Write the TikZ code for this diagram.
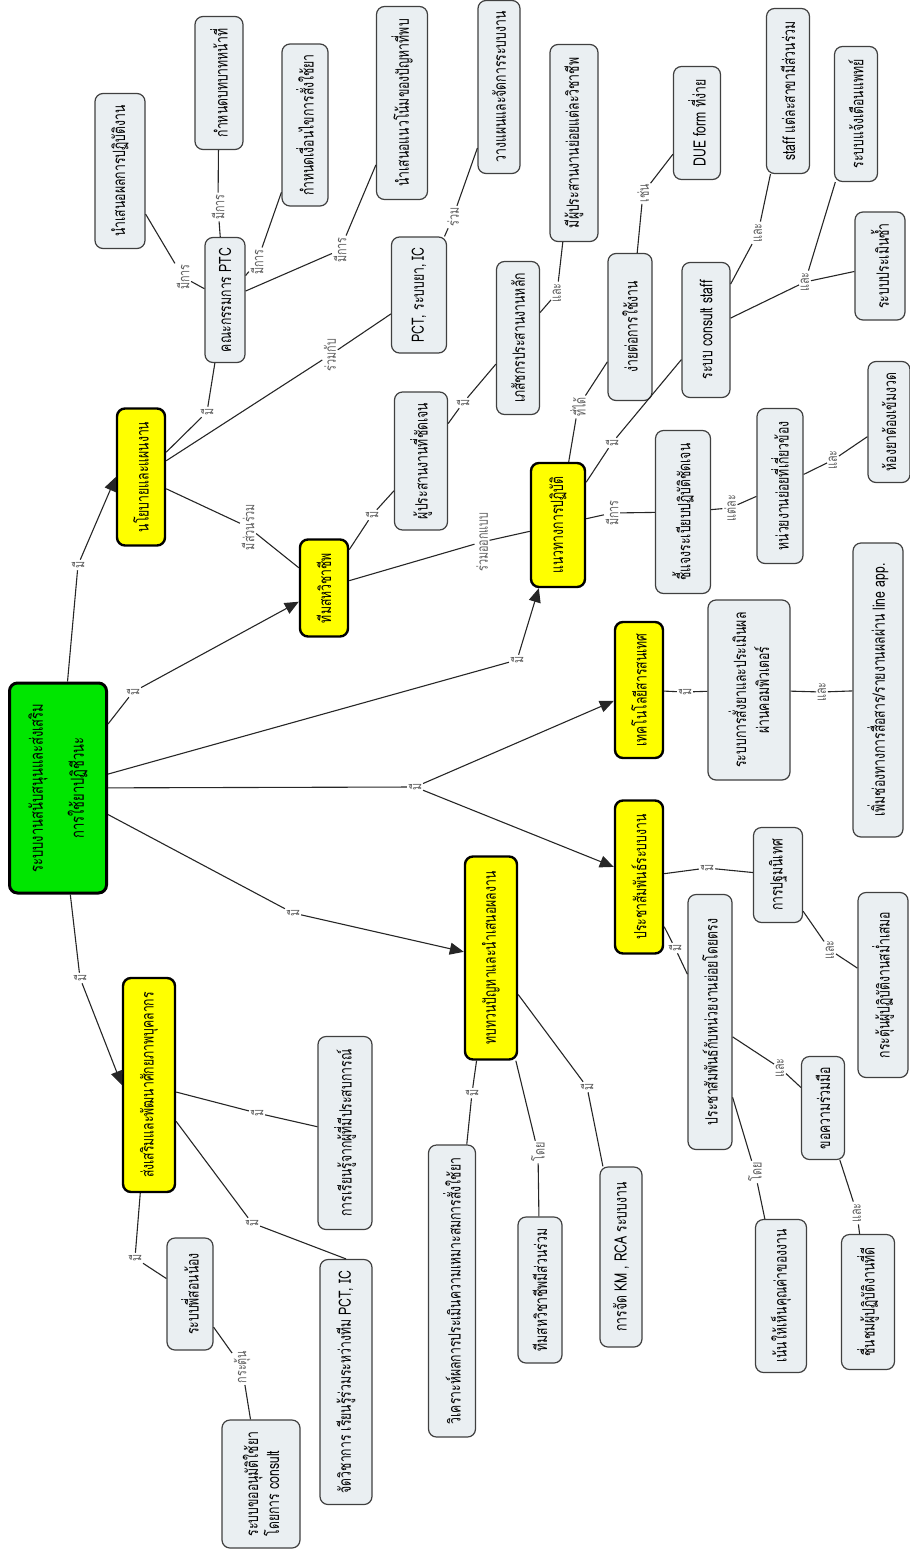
\documentclass[tikz,border=0pt]{standalone}
\usepackage{fontspec}
\usepackage{tikz}
\usetikzlibrary{arrows.meta}
\newfontfamily\thaifont[Script=Thai,FakeStretch=0.72]{Loma}
\definecolor{rootgreen}{RGB}{0,230,0}
\definecolor{mainyellow}{RGB}{255,255,0}
\definecolor{conceptgrey}{RGB}{234,239,242}
\definecolor{phrasegrey}{RGB}{95,95,95}

\begin{document}
\begin{tikzpicture}[x=1pt, y=-1pt,
        base/.style={rotate=90, rounded corners=8pt, align=center, inner sep=2pt,
          font=\thaifont\fontsize{17}{20}\selectfont},
        sz/.style 2 args={minimum width=#1pt, minimum height=#2pt},
        concept/.style={base, draw=black!75, line width=1.2pt, fill=conceptgrey},
        topic/.style={base, draw=black, line width=2.4pt, fill=mainyellow},
        rootbox/.style={base, draw=black, line width=3pt, fill=rootgreen,
          font=\thaifont\fontsize{18}{21}\selectfont},
        phrase/.style={rotate=90, inner sep=1.5pt, text=phrasegrey,
          font=\thaifont\fontsize{15}{17}\selectfont},
        link/.style={line width=1.1pt, black!85},
        arr/.style={link, -{Triangle[length=14pt, width=12pt]}}
    ]
        \useasboundingbox (0,0) rectangle (910,1553);

        % root
        \node[rootbox, sz={210}{97}] (root) at (58,788)
            {ระบบงานสนับสนุนและส่งเสริม\\[20pt]การใช้ยาปฏิชีวนะ};

        % main topics
        \node[topic, sz={137}{48}] (poli) at (141,477) {นโยบายและแผนงาน};
        \node[topic, sz={97}{48}] (team) at (324,588) {ทีมสหวิชาชีพ};
        \node[topic, sz={124}{54}] (guide) at (558,525) {แนวทางการปฏิบัติ};
        \node[topic, sz={136}{48}] (tech) at (639,690) {เทคโนโลยีสารสนเทศ};
        \node[topic, sz={153}{48}] (pr) at (639,877) {ประชาสัมพันธ์ระบบงาน};
        \node[topic, sz={203}{52}] (review) at (491,958) {ทบทวนปัญหาและนำเสนอผลงาน};
        \node[topic, sz={214}{52}] (dev) at (149,1085) {ส่งเสริมและพัฒนาศักยภาพบุคลากร};

        % policy branch
        \node[concept, sz={125}{40}] (ptc) at (225,300) {คณะกรรมการ PTC};
        \node[concept, sz={155}{50}] (present) at (120,171) {นำเสนอผลการปฏิบัติงาน};
        \node[concept, sz={133}{48}] (role) at (219,83) {กำหนดบทบาทหน้าที่};
        \node[concept, sz={162}{46}] (cond) at (305,125) {กำหนดเงื่อนไขการสั่งใช้ยา};
        \node[concept, sz={193}{51}] (trend) at (402,103) {นำเสนอแนวโน้มของปัญหาที่พบ};
        \node[concept, sz={116}{55}] (pct) at (419,295) {PCT, ระบบยา, IC};
        \node[concept, sz={173}{42}] (plan) at (499,87) {วางแผนและจัดการระบบงาน};

        % team branch
        \node[concept, sz={138}{53}] (coord) at (421,461) {ผู้ประสานงานที่ชัดเจน};
        \node[concept, sz={153}{43}] (pharm) at (518,338) {เภสัชกรประสานงานหลัก};
        \node[concept, sz={197}{48}] (subco) at (574,143) {มีผู้ประสานงานย่อยแต่ละวิชาชีพ};

        % guideline branch
        \node[concept, sz={147}{44}] (easy) at (630,327) {ง่ายต่อการใช้งาน};
        \node[concept, sz={113}{47}] (due) at (697,123) {DUE form ที่ง่าย};
        \node[concept, sz={135}{48}] (consult) at (706,330) {ระบบ consult staff};
        \node[concept, sz={165}{43}] (staff) at (788,91) {staff แต่ละสาขามีส่วนร่วม};
        \node[concept, sz={135}{43}] (alert) at (856,114) {ระบบแจ้งเตือนแพทย์};
        \node[concept, sz={108}{50}] (reeval) at (880,266) {ระบบประเมินซ้ำ};
        \node[concept, sz={163}{55}] (clarify) at (683,512) {ชี้แจงระเบียบปฏิบัติชัดเจน};
        \node[concept, sz={155}{46}] (unit) at (780,486) {หน่วยงานย่อยที่เกี่ยวข้อง};
        \node[concept, sz={121}{42}] (strict) at (889,422) {ห้องยาต้องเข้มงวด};

        % technology branch
        \node[concept, sz={180}{82}] (cpoe) at (749,690)
            {ระบบการสั่งยาและประเมินผล\\[3pt]ผ่านคอมพิวเตอร์};
        \node[concept, sz={294}{50}] (line) at (878,690) {เพิ่มช่องทางการสื่อสาร/รายงานผลผ่าน line app.};

        % public relations branch
        \node[concept, sz={95}{49}] (orient) at (778,875) {การปฐมนิเทศ};
        \node[concept, sz={185}{50}] (motiv) at (883,985) {กระตุ้นผู้ปฏิบัติงานสม่ำเสมอ};
        \node[concept, sz={255}{44}] (prunit) at (710,1022) {ประชาสัมพันธ์กับหน่วยงานย่อยโดยตรง};
        \node[concept, sz={103}{43}] (coop) at (823,1108) {ขอความร่วมมือ};
        \node[concept, sz={153}{51}] (value) at (781,1296) {เน้นให้เห็นคุณค่าของงาน};
        \node[concept, sz={135}{53}] (praise) at (868,1302) {ชื่นชมผู้ปฏิบัติงานที่ดี};

        % review branch
        \node[concept, sz={292}{47}] (analyze) at (452,1291) {วิเคราะห์ผลการประเมินความเหมาะสมการสั่งใช้ยา};
        \node[concept, sz={146}{44}] (mdt) at (540,1290) {ทีมสหวิชาชีพมีส่วนร่วม};
        \node[concept, sz={180}{42}] (km) at (621,1257) {การจัด KM , RCA ระบบงาน};

        % staff development branch
        \node[concept, sz={193}{54}] (learn) at (345,1133) {การเรียนรู้จากผู้ที่มีประสบการณ์};
        \node[concept, sz={245}{52}] (acad) at (346,1382) {จัดวิชาการ เรียนรู้ร่วมระหว่างทีม PCT, IC};
        \node[concept, sz={112}{46}] (mentor) at (190,1294) {ระบบพี่สอนน้อง};
        \node[concept, sz={128}{78}, align=left] (approve) at (261,1484)
            {ระบบขออนุมัติใช้ยา\\[1pt]โดยการ consult};

        % linking phrases
        \node[phrase] (la1) at (78,565) {มี};
        \node[phrase] (la2) at (133,692) {มี};
        \node[phrase] (la3) at (517,660) {มี};
        \node[phrase] (la4) at (415,787) {มี};
        \node[phrase] (la5) at (293,913) {มี};
        \node[phrase] (la6) at (80,978) {มี};
        \node[phrase] (lb1) at (207,412) {มี};
        \node[phrase] (lb2) at (330,355) {ร่วมกับ};
        \node[phrase] (lb3) at (248,527) {มีส่วนร่วม};
        \node[phrase] (lc1) at (183,277) {มีการ};
        \node[phrase] (lc2) at (218,207) {มีการ};
        \node[phrase] (lc3) at (257,262) {มีการ};
        \node[phrase] (lc4) at (340,250) {มีการ};
        \node[phrase] (ld1) at (453,217) {ร่วม};
        \node[phrase] (le1) at (372,515) {มี};
        \node[phrase] (le2) at (482,542) {ร่วมออกแบบ};
        \node[phrase] (lf1) at (463,403) {มี};
        \node[phrase] (lg1) at (557,293) {และ};
        \node[phrase] (lh1) at (578,407) {ที่ได้};
        \node[phrase] (lh2) at (612,443) {มี};
        \node[phrase] (lh3) at (612,513) {มีการ};
        \node[phrase] (li1) at (643,193) {เช่น};
        \node[phrase] (lj1) at (758,233) {และ};
        \node[phrase] (lj2) at (805,282) {และ};
        \node[phrase] (lk1) at (730,508) {แต่ละ};
        \node[phrase] (ll1) at (833,460) {และ};
        \node[phrase] (lm1) at (685,692) {มี};
        \node[phrase] (ln1) at (822,692) {และ};
        \node[phrase] (lo1) at (707,868) {มี};
        \node[phrase] (lo2) at (675,948) {มี};
        \node[phrase] (lp1) at (830,950) {และ};
        \node[phrase] (lq1) at (780,1068) {และ};
        \node[phrase] (lq2) at (755,1172) {โดย};
        \node[phrase] (lr1) at (857,1213) {และ};
        \node[phrase] (ls1) at (472,1093) {มี};
        \node[phrase] (ls2) at (538,1152) {โดย};
        \node[phrase] (ls3) at (587,1087) {มี};
        \node[phrase] (lt1) at (257,1113) {มี};
        \node[phrase] (lt2) at (252,1223) {มี};
        \node[phrase] (lt3) at (135,1258) {มี};
        \node[phrase] (lu1) at (242,1367) {กระตุ้น};

        % root links
        \draw[link] (root) -- (la1);
        \draw[arr] (la1) -- (poli.north);
        \draw[link] (root) -- (la2);
        \draw[arr] (la2) -- (team);
        \draw[link] (root) -- (la3);
        \draw[arr] (la3) -- (guide);
        \draw[link] (root) -- (la4);
        \draw[arr] (la4) -- (tech);
        \draw[arr] (la4) -- (pr);
        \draw[link] (root) -- (la5);
        \draw[arr] (la5) -- (review);
        \draw[link] (root) -- (la6);
        \draw[arr] (la6) -- (dev.north);

        % policy links
        \draw[link] (poli) -- (lb1) -- (ptc);
        \draw[link] (poli) -- (lb2) -- (pct);
        \draw[link] (poli) -- (lb3) -- (team);
        \draw[link] (ptc) -- (lc1) -- (present);
        \draw[link] (ptc) -- (lc2) -- (role);
        \draw[link] (ptc) -- (lc3) -- (cond);
        \draw[link] (ptc) -- (lc4) -- (trend);
        \draw[link] (pct) -- (ld1) -- (plan);

        % team links
        \draw[link] (team) -- (le1) -- (coord);
        \draw[link] (team) -- (le2) -- (guide);
        \draw[link] (coord) -- (lf1) -- (pharm);
        \draw[link] (pharm) -- (lg1) -- (subco);

        % guideline links
        \draw[link] (guide) -- (lh1) -- (easy);
        \draw[link] (guide) -- (lh2) -- (consult);
        \draw[link] (guide) -- (lh3) -- (clarify);
        \draw[link] (easy) -- (li1) -- (due);
        \draw[link] (consult) -- (lj1) -- (staff);
        \draw[link] (consult) -- (lj2) -- (alert);
        \draw[link] (lj2) -- (reeval);
        \draw[link] (clarify) -- (lk1) -- (unit);
        \draw[link] (unit) -- (ll1) -- (strict);

        % technology links
        \draw[link] (tech) -- (lm1) -- (cpoe);
        \draw[link] (cpoe) -- (ln1) -- (line);

        % public relations links
        \draw[link] (pr) -- (lo1) -- (orient);
        \draw[link] (pr) -- (lo2) -- (prunit);
        \draw[link] (orient) -- (lp1) -- (motiv);
        \draw[link] (prunit) -- (lq1) -- (coop);
        \draw[link] (prunit) -- (lq2) -- (value);
        \draw[link] (coop) -- (lr1) -- (praise);

        % review links
        \draw[link] (review) -- (ls1) -- (analyze);
        \draw[link] (review) -- (ls2) -- (mdt);
        \draw[link] (review) -- (ls3) -- (km);

        % staff development links
        \draw[link] (dev) -- (lt1) -- (learn);
        \draw[link] (dev) -- (lt2) -- (acad.east);
        \draw[link] (dev) -- (lt3) -- (mentor);
        \draw[link] (mentor) -- (lu1) -- (approve);
    \end{tikzpicture}
\end{document}
